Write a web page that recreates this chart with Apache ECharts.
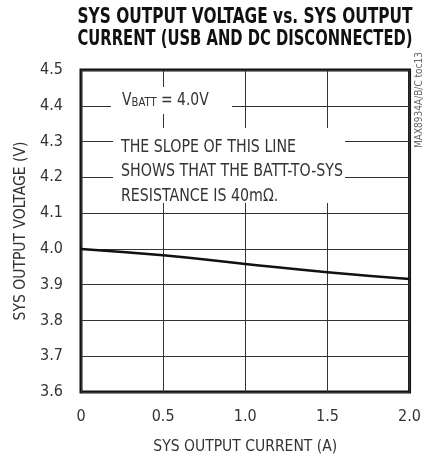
<!DOCTYPE html>
<html>
<head>
<meta charset="utf-8">
<script src="https://cdn.jsdelivr.net/npm/echarts@6/dist/echarts.min.js"></script>
<style>
html,body{margin:0;padding:0;background:#fff;}
#chart{width:424px;height:460px;}
</style>
</head>
<body>
<div id="chart"></div>
<script>
const titleLines = ['SYS OUTPUT VOLTAGE vs. SYS OUTPUT', 'CURRENT (USB AND DC DISCONNECTED)'];
const xAxisName = 'SYS OUTPUT CURRENT (A)';
const yAxisName = 'SYS OUTPUT VOLTAGE (V)';
const currentA = [0, 0.5, 1.0, 1.5, 2.0];
const sysVoltage = [4.0, 3.982, 3.958, 3.935, 3.916];
const xTickLabels = ['0', '0.5', '1.0', '1.5', '2.0'];
const yTickLabels = ['3.6', '3.7', '3.8', '3.9', '4.0', '4.1', '4.2', '4.3', '4.4', '4.5'];
const noteLines = ['THE SLOPE OF THIS LINE', 'SHOWS THAT THE BATT-TO-SYS', 'RESISTANCE IS 40m\u03A9.'];
const sideLabel = 'MAX8934A/B/C toc13';

const FONT = '"DejaVu Sans Condensed", "Liberation Sans", sans-serif';
const cv = document.createElement('canvas').getContext('2d');
function textWidth(t, size, weight) {
  cv.font = (weight || 'normal') + ' ' + size + 'px ' + FONT;
  return cv.measureText(t).width;
}
// horizontal squeeze factors to imitate the condensed typeface
const titleScale1 = 335 / textWidth(titleLines[0], 21, 'bold');
const titleScale2 = 335 / textWidth(titleLines[1], 21, 'bold');
const noteScale = 222 / textWidth(noteLines[1], 18);
const vScale = 0.86;

const chart = echarts.init(document.getElementById('chart'), null, {renderer: 'canvas'});
const G = {left: 81, right: 10, top: 70, bottom: 60};

chart.setOption({
  animation: false,
  backgroundColor: '#fff',
  grid: {left: G.left, right: G.right, top: G.top, bottom: G.bottom, show: true, borderColor: '#111', borderWidth: 3, backgroundColor: 'transparent'},
  xAxis: {
    type: 'value', min: 0, max: 2, interval: 0.5,
    name: xAxisName, nameLocation: 'middle', nameGap: 47,
    nameTextStyle: {fontFamily: FONT, fontSize: 15.5, color: '#333'},
    axisLine: {show: false}, axisTick: {show: false},
    axisLabel: {fontFamily: FONT, fontSize: 16, color: '#333', margin: 17,
      formatter: function (v) { const i = Math.round(v / 0.5); return xTickLabels[i] || ''; }},
    splitLine: {show: true, lineStyle: {color: '#333', width: 1}}
  },
  yAxis: {
    type: 'value', min: 3.6, max: 4.5, interval: 0.1,
    name: yAxisName, nameLocation: 'middle', nameGap: 44,
    nameTextStyle: {fontFamily: FONT, fontSize: 15.5, color: '#333'},
    axisLine: {show: false}, axisTick: {show: false},
    axisLabel: {fontFamily: FONT, fontSize: 16, color: '#333', margin: 18,
      formatter: function (v) { const i = Math.round((v - 3.6) / 0.1); return yTickLabels[i] || ''; }},
    splitLine: {show: true, lineStyle: {color: '#333', width: 1}}
  },
  graphic: [
    {type: 'text', x: 245, y: 17.5, scaleX: titleScale1, z: 60, style: {
      text: titleLines[0], fontFamily: FONT, fontWeight: 'bold', fontSize: 21, fill: '#111', textAlign: 'center', textVerticalAlign: 'middle'
    }},
    {type: 'text', x: 245, y: 39.5, scaleX: titleScale2, z: 60, style: {
      text: titleLines[1], fontFamily: FONT, fontWeight: 'bold', fontSize: 21, fill: '#111', textAlign: 'center', textVerticalAlign: 'middle'
    }},
    {type: 'rect', shape: {x: 111, y: 87, width: 121, height: 27}, style: {fill: '#fff'}, z: 50},
    {type: 'rect', shape: {x: 113, y: 128, width: 232, height: 75}, style: {fill: '#fff'}, z: 50},
    {type: 'text', x: 122, y: 109, scaleX: vScale, z: 60, style: {
      text: '{v|V}{s|BATT}{v| = 4.0V}', textVerticalAlign: 'bottom',
      rich: {v: {fontFamily: FONT, fontSize: 18, fill: '#333'}, s: {fontFamily: FONT, fontSize: 13, fill: '#333', verticalAlign: 'bottom'}}
    }},
    {type: 'text', x: 121, y: 135, scaleX: noteScale, z: 60, style: {
      text: noteLines.join('\n'), fontFamily: FONT, fontSize: 18, lineHeight: 24.5, fill: '#333'
    }},
    {type: 'text', x: 419, y: 100, rotation: Math.PI / 2, z: 60, style: {
      text: sideLabel, fontFamily: FONT, fontSize: 10, fill: '#666', textAlign: 'center', textVerticalAlign: 'middle'
    }}
  ],
  series: [{
    type: 'line', data: currentA.map((x, i) => [x, sysVoltage[i]]),
    showSymbol: false, smooth: true, lineStyle: {color: '#111', width: 2.5}, z: 10
  }]
});
</script>
</body>
</html>
